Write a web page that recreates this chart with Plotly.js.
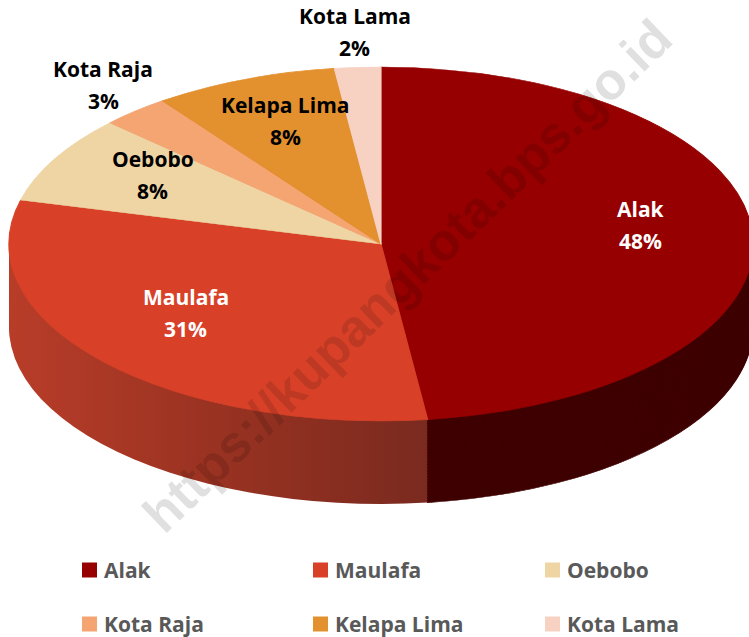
<!DOCTYPE html>
<html><head><meta charset="utf-8">
<script src="https://cdn.plot.ly/plotly-3.0.1.min.js"></script>
<style>html,body{margin:0;padding:0;background:#fff}#chart{width:749px;height:637px}</style>
</head><body><div id="chart"></div>
<script>
// ---- data ----
const categories = ['Alak', 'Maulafa', 'Oebobo', 'Kota Raja', 'Kelapa Lima', 'Kota Lama'];
const values = [48, 31, 8, 3, 8, 2];
const topColors = ['#960000', '#d84128', '#efd5a4', '#f5a572', '#e3902f', '#f7d2c3'];
const sideColors = ['#3e0000', '#8f2e1f', '#a89068', '#b0714c', '#9c5e22', '#b39a8e'];
const labelColors = ['#ffffff', '#ffffff', '#000000', '#000000', '#000000', '#000000'];
const watermark = 'https://kupangkota.bps.go.id';

// ---- layout constants ----
const W = 749, H = 637;
const CX = 381, CY = 244, RX = 372, RY = 177, DEPTH = 83, N_SIDE = 28;
const LABEL_CY = 233;
const FONT = 'Open Sans, Noto Sans, sans-serif';

function pieTrace(colors) {
  return {
    type: 'pie', labels: categories, values: values, sort: false,
    direction: 'clockwise', rotation: 0,
    marker: {colors: colors, line: {color: colors, width: 1}},
    textinfo: 'none', hoverinfo: 'skip', showlegend: false,
    domain: {x: [0, 1], y: [0, 1]}
  };
}

const traces = [], offsets = [];
for (let k = 0; k < N_SIDE; k++) {
  offsets.push(DEPTH * (N_SIDE - k) / N_SIDE);
  traces.push(pieTrace(sideColors));
}
offsets.push(0);
traces.push(pieTrace(topColors));

const px = x => x / W, py = y => 1 - y / H;
const total = values.reduce((a, b) => a + b, 0);
const annotations = [{
  text: watermark, xref: 'paper', yref: 'paper', x: px(407), y: py(276),
  showarrow: false, textangle: -44, xanchor: 'center', yanchor: 'middle',
  font: {family: 'Liberation Sans, Arial, sans-serif', size: 52, weight: 'bold', color: 'rgba(0,0,0,0.12)'}
}];
let cum = 0;
values.forEach((v, i) => {
  const share = v / total;
  const mid = (cum + v / 2) / total * 2 * Math.PI;
  cum += v;
  const outside = share < 0.05;
  const fx = outside ? 1.13 : 0.70, fy = outside ? 1.2 : 0.68;
  const x = CX + fx * RX * Math.sin(mid);
  const y = (outside ? CY : LABEL_CY) - fy * RY * Math.cos(mid);
  const font = {family: FONT, size: 21, weight: 'bold', color: labelColors[i]};
  annotations.push({text: categories[i], xref: 'paper', yref: 'paper', x: px(x), y: py(y),
    yshift: 16, showarrow: false, xanchor: 'center', yanchor: 'middle', font: font});
  annotations.push({text: Math.round(share * 100) + '%', xref: 'paper', yref: 'paper', x: px(x), y: py(y),
    yshift: -16, showarrow: false, xanchor: 'center', yanchor: 'middle', font: font});
});

// legend (3 columns x 2 rows)
const legendCols = [82, 313, 545], legendRows = [570, 624];
const shapes = [];
categories.forEach((c, i) => {
  const lx = legendCols[i % 3], ly = legendRows[Math.floor(i / 3)];
  shapes.push({type: 'rect', xref: 'paper', yref: 'paper', x0: px(lx), x1: px(lx + 15),
    y0: py(ly + 7.5), y1: py(ly - 7.5), fillcolor: topColors[i], line: {width: 0}});
  annotations.push({text: c, xref: 'paper', yref: 'paper', x: px(lx + 20), y: py(ly),
    showarrow: false, xanchor: 'left', yanchor: 'middle',
    font: {family: FONT, size: 21, weight: 'bold', color: '#595959'}});
});

const layout = {
  width: W, height: H, margin: {l: 0, r: 0, t: 0, b: 0},
  paper_bgcolor: '#ffffff', showlegend: false,
  annotations: annotations, shapes: shapes
};

const gd = document.getElementById('chart');
Plotly.newPlot(gd, traces, layout, {staticPlot: true}).then(() => {
  const groups = gd.querySelectorAll('.pielayer > g.trace');
  // horizontal shading for the visible side of Maulafa
  const svg = gd.querySelector('svg.main-svg');
  const NS = 'http://www.w3.org/2000/svg';
  let defs = svg.querySelector('defs');
  const grad = document.createElementNS(NS, 'linearGradient');
  grad.setAttribute('id', 'maulafaSide');
  grad.setAttribute('x1', '0'); grad.setAttribute('x2', '1');
  grad.setAttribute('y1', '0'); grad.setAttribute('y2', '0');
  [['0', '#b83d29'], ['0.45', '#9c3322'], ['1', '#7a2a1f']].forEach(([o, c]) => {
    const s = document.createElementNS(NS, 'stop');
    s.setAttribute('offset', o); s.setAttribute('stop-color', c);
    grad.appendChild(s);
  });
  defs.appendChild(grad);
  groups.forEach((g, i) => {
    const cd0 = gd.calcdata[i][0];
    const r = cd0.r || Math.min(W, H) / 2;
    const cx = cd0.cx || W / 2, cy = cd0.cy || H / 2;
    g.setAttribute('transform',
      `translate(${CX},${CY + offsets[i]}) scale(${RX / r},${RY / r}) translate(${-cx},${-cy})`);
    if (i < N_SIDE) {
      const sl = g.querySelectorAll('g.slice path.surface');
      if (sl[1]) { sl[1].style.fill = 'url(#maulafaSide)'; sl[1].style.stroke = 'none'; }
    }
  });
});
</script>
</body></html>
